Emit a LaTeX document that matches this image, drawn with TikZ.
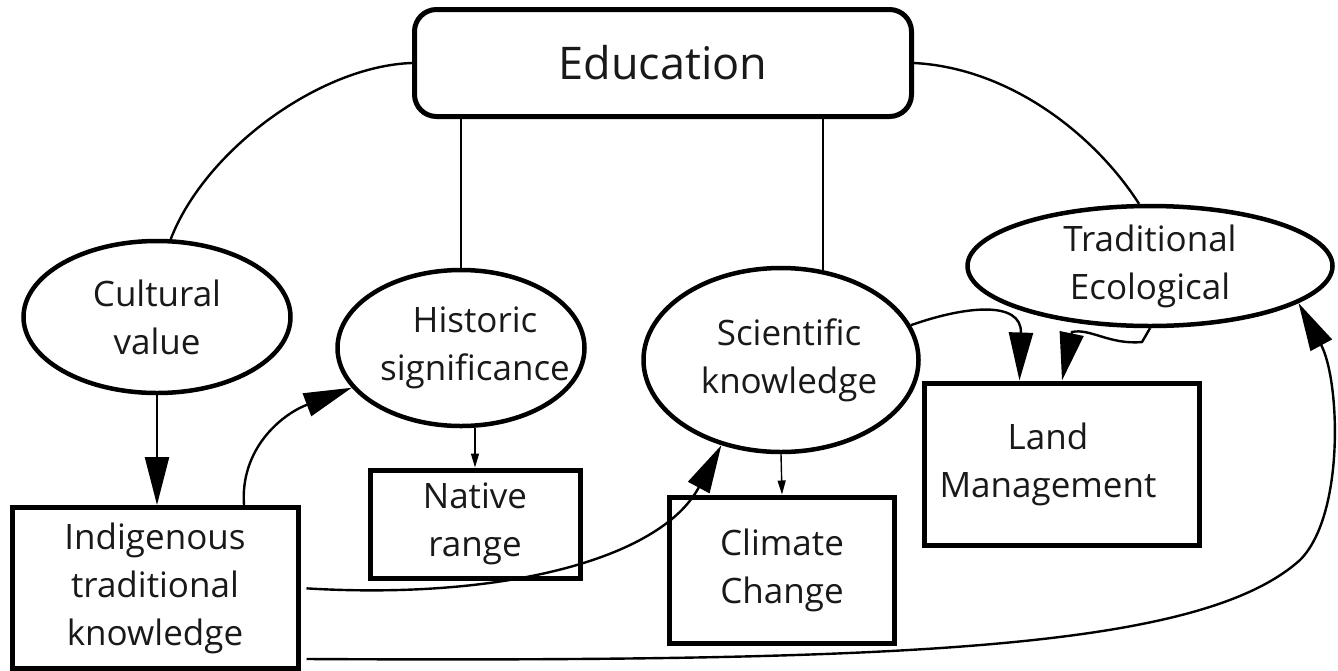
\documentclass[tikz,border=0pt]{standalone}
\usepackage{fontspec}
\setmainfont{Open Sans}
\usetikzlibrary{shapes.geometric,arrows.meta}
\definecolor{ink}{RGB}{25,25,25}
\tikzset{
  base/.style={draw=black, inner sep=0pt, text=ink, align=center, font=\fontsize{35}{48}\selectfont},
  oval/.style={base, ellipse, line width=4.5pt},
  box/.style={base, rectangle, line width=5pt},
  conn/.style={line width=2.4pt, black},
  bigarr/.style={conn, -{Triangle[length=48pt,width=24pt]}},
  smallarr/.style={line width=1.4pt, black, -{Triangle[length=14pt,width=8pt]}},
}
\begin{document}
\begin{tikzpicture}[x=1pt,y=-1pt]
\useasboundingbox[fill=white] (0,0) rectangle (1338,670);
\node[base, rectangle, rounded corners=22pt, line width=5pt, minimum width=497pt, minimum height=107pt, font=\fontsize{45}{54}\selectfont] (edu) at (663,63) {Education};
\node[oval, minimum width=267pt, minimum height=152pt, label={[base,draw=none]center:Cultural\\value}] (cult) at (157,317) {};
\node[oval, minimum width=247pt, minimum height=156pt, label={[base,draw=none,xshift=14pt]center:Historic\\significance}] (hist) at (461,348) {};
\node[oval, minimum width=275pt, minimum height=184pt, label={[base,draw=none,xshift=8pt]center:Scientific\\knowledge}] (sci) at (781,360) {};
\node[oval, minimum width=365pt, minimum height=120pt, label={[base,draw=none]center:Traditional\\Ecological}] (trad) at (1150,266) {};
\node[box, minimum width=286pt, minimum height=161pt] (ind) at (155,588) {Indigenous\\traditional\\knowledge};
\node[box, minimum width=210pt, minimum height=108pt] (nat) at (475,524) {Native\\range};
\node[box, minimum width=225pt, minimum height=146pt] (clim) at (782,570) {Climate\\Change};
\node[box, minimum width=275pt, minimum height=162pt, label={[base,draw=none,xshift=-14pt]center:Land\\Management}] (land) at (1062,464) {};

% plain links from Education
\draw[conn] (edu.west) .. controls (320,66) and (205,150) .. (cult.80);
\draw[conn] (hist.north |- edu.south) -- (hist.north);
\draw[conn] (sci.65 |- edu.south) -- (sci.65);
\draw[conn] (edu.east) .. controls (1010,68) and (1095,135) .. (trad.100);

% arrows
\draw[bigarr] (cult.south) -- (cult.south |- ind.north);
\draw[bigarr] (ind.43) .. controls (240,450) and (280,415) .. (hist.200);
\draw[smallarr] (nat.north |- hist.south) -- (nat.north);
\draw[bigarr, shorten <=6pt] (ind.east) .. controls (500,600) and (660,560) .. (sci.235);
\draw[smallarr] (sci.south) -- (clim.north);
\draw[bigarr] (sci.15) .. controls (965,306) and (1022,300) .. (land.117);
\draw[bigarr] (trad.south) -- (1142,342) .. controls (1110,345) and (1090,328) .. (1072,332) -- (land.north);
\draw[bigarr, shorten <=6pt] (ind.-26) .. controls (900,662) and (1200,650) .. (1300,560) .. controls (1345,515) and (1340,380) .. (trad.-14);
\end{tikzpicture}
\end{document}
